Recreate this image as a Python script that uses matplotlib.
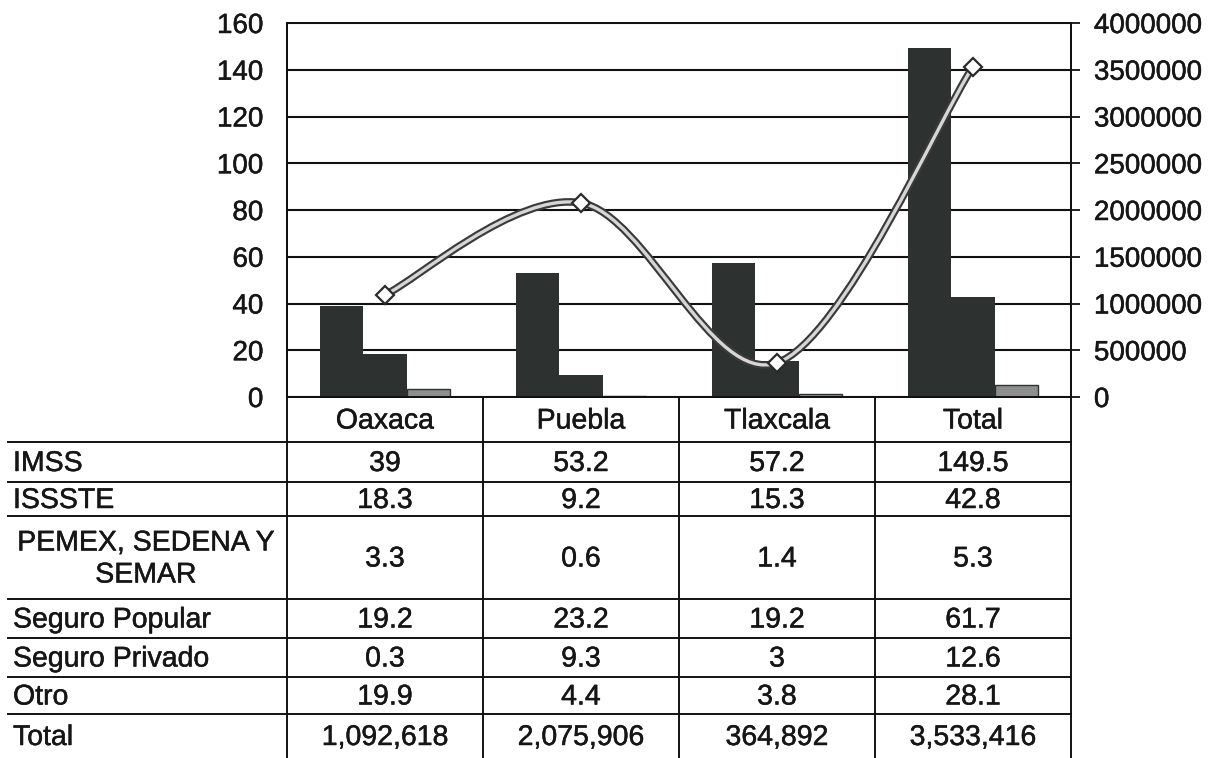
import matplotlib
matplotlib.use("Agg")
import matplotlib.pyplot as plt
import matplotlib.transforms as mtransforms
import matplotlib.patheffects as pe
from matplotlib.path import Path
from matplotlib.patches import PathPatch
import numpy as np

plt.rcParams['font.family'] = ['Liberation Sans', 'DejaVu Sans']

# data
estados = ["Oaxaca", "Puebla", "Tlaxcala", "Total"]
imss = [39, 53.2, 57.2, 149.5]
issste = [18.3, 9.2, 15.3, 42.8]
pemex = [3.3, 0.6, 1.4, 5.3]
seguro_popular = [19.2, 23.2, 19.2, 61.7]
seguro_privado = [0.3, 9.3, 3, 12.6]
otro = [19.9, 4.4, 3.8, 28.1]
poblacion = [1092618, 2075906, 364892, 3533416]

filas = ["IMSS", "ISSSTE", "PEMEX, SEDENA Y\nSEMAR",
         "Seguro Popular", "Seguro Privado", "Otro", "Total"]
valores = [imss, issste, pemex, seguro_popular, seguro_privado, otro, poblacion]

W, H = 1220, 758
dark = "#2d312f"
ink = "#161616"
heavy = [pe.withStroke(linewidth=0.35, foreground=ink)]

fig = plt.figure(figsize=(W / 100, H / 100), dpi=100)


def px_box(x0, y0, x1, y1):
    return [x0 / W, 1 - y1 / H, (x1 - x0) / W, (y1 - y0) / H]


ax = fig.add_axes(px_box(287, 23, 1071, 397))
x = np.arange(len(estados))
w = 0.222
ax.bar(x - w, imss, w, color=dark, zorder=3)
ax.bar(x, issste, w, color=dark, zorder=3)
ax.bar(x + w, pemex, w, color="#8e8e8e", edgecolor=dark, linewidth=1, zorder=3)

ax.set_xlim(-0.5, len(estados) - 0.5)
ax.set_ylim(0, 160)
ax.set_yticks(range(0, 161, 20))
ax.set_xticks([])
ax.yaxis.grid(True, color="#111111", linewidth=1.5)
ax.set_axisbelow(True)
ax.tick_params(axis="y", length=0, pad=17, labelsize=20, labelcolor=ink)
for s in ax.spines.values():
    s.set_color("#111111")
    s.set_linewidth(1.4)

ax2 = ax.twinx()
ax2.set_ylim(0, 4000000)
ax2.set_yticks(range(0, 4000001, 500000))
ax2.yaxis.set_major_formatter(lambda v, p: f"{int(v)}")
ax2.tick_params(axis="y", direction="out", length=6.5, width=1.3, pad=10,
                labelsize=20, labelcolor=ink, color="#111111")
for s in ax2.spines.values():
    s.set_color("#111111")
    s.set_linewidth(1.4)

for lab in ax.get_yticklabels() + ax2.get_yticklabels():
    lab.set_path_effects(heavy)

# smoothed line (Catmull-Rom style bezier like Excel)
pts = np.column_stack([x, poblacion]).astype(float)
n = len(pts)
verts = [tuple(pts[0])]
codes = [Path.MOVETO]
for i in range(n - 1):
    p_prev = pts[max(i - 1, 0)]
    p_next2 = pts[min(i + 2, n - 1)]
    c1 = pts[i] + (pts[i + 1] - p_prev) / 6
    c2 = pts[i + 1] - (p_next2 - pts[i]) / 6
    verts += [tuple(c1), tuple(c2), tuple(pts[i + 1])]
    codes += [Path.CURVE4] * 3
curve = Path(verts, codes)
ax2.add_patch(PathPatch(curve, facecolor="none", edgecolor="#3a3a3a",
                        linewidth=5.5, transform=ax2.transData, zorder=4))
ax2.add_patch(PathPatch(curve, facecolor="none", edgecolor="#d6d6d6",
                        linewidth=2.4, transform=ax2.transData, zorder=5))
ax2.plot(x, poblacion, linestyle="none", marker="D", markersize=9,
         markerfacecolor="white", markeredgecolor="#2a2a2a",
         markeredgewidth=1.6, zorder=6)

# table under the chart
tax = fig.add_axes([0, 0, 1, 1])
tax.set_xlim(0, W)
tax.set_ylim(H, 0)
tax.axis("off")
tax.patch.set_visible(False)
cols = mtransforms.blended_transform_factory(ax.transData, tax.transData)

row_edges = [397, 442, 482, 516, 599, 638, 677, 714, 758]
line_kw = dict(color="#111111", linewidth=1.4)
for y in row_edges[1:-1]:
    tax.plot([8, 1071], [y, y], **line_kw)
for b in np.arange(len(estados) + 1) - 0.5:
    tax.plot([b, b], [397, 758], transform=cols, **line_kw)

fs = 20.5
dy = 2
txt_kw = dict(fontsize=fs, color=ink, path_effects=heavy)
head_y = (row_edges[0] + row_edges[1]) / 2 + dy
for i, e in enumerate(estados):
    tax.text(i, head_y, e, transform=cols, ha="center", va="center", **txt_kw)

for r, (nombre, vals) in enumerate(zip(filas, valores)):
    yc = (row_edges[r + 1] + row_edges[r + 2]) / 2 + dy
    if "\n" in nombre:
        tax.text(146, yc, nombre, ha="center", va="center",
                 multialignment="center", linespacing=1.3, **txt_kw)
    else:
        tax.text(13, yc, nombre, ha="left", va="center", **txt_kw)
    for i, v in enumerate(vals):
        txt = f"{v:,}" if nombre == "Total" else f"{v:g}"
        tax.text(i, yc, txt, transform=cols, ha="center", va="center", **txt_kw)

fig.savefig("out.png", dpi=100, facecolor="white")
